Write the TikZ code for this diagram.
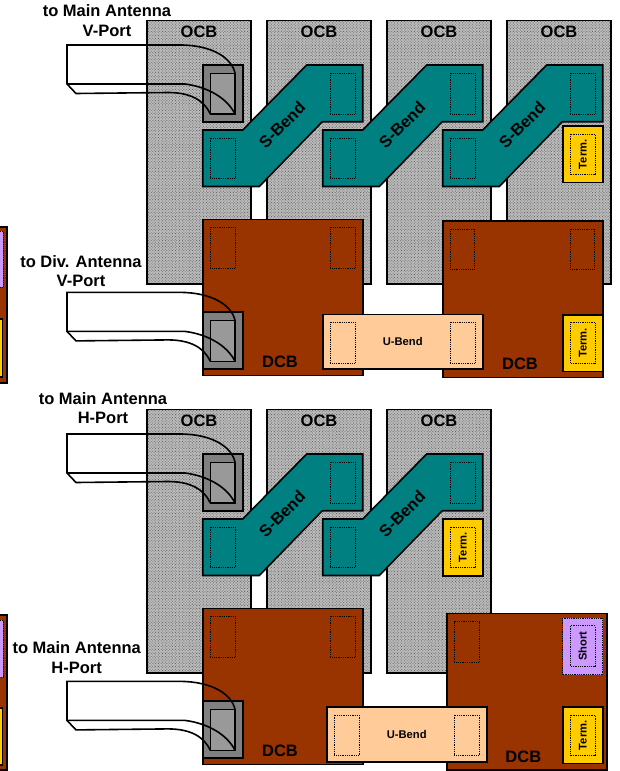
\documentclass[tikz,border=0pt]{standalone}
\usepackage{fontspec}
\setmainfont{Liberation Sans}
\usetikzlibrary{positioning,patterns.meta}
\definecolor{sbendcol}{HTML}{008080}
\definecolor{dcbcol}{HTML}{993300}
\definecolor{termcol}{HTML}{FFCC00}
\definecolor{ubendcol}{HTML}{FFCC99}
\definecolor{shortcol}{HTML}{CC99FF}
\tikzset{
  ocb/.style   = {draw=black, line width=1.6pt, outer sep=0pt, minimum width=104pt, minimum height=263.3pt,
                  preaction={fill=black!26}, pattern={Dots[distance=2pt, radius=.6pt, angle=45]}, pattern color=black!60},
  dcb/.style   = {draw=black, line width=1.6pt, outer sep=0pt, fill=dcbcol, minimum width=160pt, minimum height=156.3pt},
  ubend/.style = {draw=black, line width=1.6pt, outer sep=0pt, fill=ubendcol, minimum width=160pt, minimum height=54.7pt,
                  font=\fontsize{11.2}{13}\selectfont\bfseries},
  sbend/.style = {draw=black, line width=1.6pt, fill=sbendcol, line join=miter},
  term/.style  = {draw=black, line width=1.6pt, outer sep=0pt, fill=termcol, minimum width=40pt, minimum height=56.7pt},
  short/.style = {draw=black, densely dotted, line width=.8pt, outer sep=0pt, fill=shortcol, minimum width=40pt, minimum height=56.7pt},
  conn/.style  = {draw=black, line width=1.6pt, outer sep=0pt, fill=black!50, minimum width=40pt, minimum height=57pt},
  inn/.style   = {draw=black, line width=1.6pt, outer sep=0pt, fill=black!40, minimum width=24.7pt, minimum height=40.7pt},
  pad/.style   = {draw=black, densely dotted, line width=.8pt, outer sep=0pt, minimum width=24.7pt, minimum height=40.7pt},
  tpad/.style  = {draw=black, densely dotted, line width=.8pt, outer sep=0pt, rotate=90, minimum width=40.7pt, minimum height=24.7pt,
                  inner sep=0pt, font=\fontsize{11.2}{13}\selectfont\bfseries},
  lab/.style   = {font=\fontsize{16.5}{19.5}\selectfont\bfseries, align=center, inner sep=0pt},
  cable/.style = {draw=black, line width=1.6pt, line join=miter},
}
\begin{document}
\begin{tikzpicture}[x=1pt, y=-1pt]
  \useasboundingbox (0,0) rectangle (619,771);
  % cut-off blocks at the left edge
  \draw[line width=1.6pt, fill=dcbcol] (0,226.7) -- (7,226.7) -- (7,383) -- (0,383);
  \draw[densely dotted, line width=.8pt, fill=shortcol] (0,231) -- (3,231) -- (3,287) -- (0,287);
  \draw[line width=1.6pt, fill=termcol] (0,319) -- (2.5,319) -- (2.5,377) -- (0,377);
  \draw[line width=1.6pt, fill=dcbcol] (0,615) -- (7,615) -- (7,770) -- (0,770);
  \draw[densely dotted, line width=.8pt, fill=shortcol] (0,620) -- (3,620) -- (3,677) -- (0,677);
  \draw[line width=1.6pt, fill=termcol] (0,708) -- (2.5,708) -- (2.5,765) -- (0,765);

  % V-port, OCB row
  \node[ocb] (ocbA) at (199,152.3) {};
  \node[ocb, right=16pt of ocbA] (ocbB) {};
  \node[ocb, right=16pt of ocbB] (ocbC) {};
  \node[ocb, right=16pt of ocbC] (ocbD) {};
  \node[lab] (txtA) at (199,32) {OCB};
  \node[lab] (txtB) at (319,32) {OCB};
  \node[lab] (txtC) at (439,32) {OCB};
  \node[lab] (txtD) at (559,32) {OCB};
  \draw[sbend] (202.7,130) -- (242.7,130) -- (306.7,65) -- (362.7,65) -- (362.7,121.7) -- (322.3,121.7) -- (259.3,186.5) -- (202.7,186.5) -- cycle;
  \draw[sbend] (322.7,130) -- (362.7,130) -- (426.7,65) -- (482.7,65) -- (482.7,121.7) -- (442.3,121.7) -- (379.3,186.5) -- (322.7,186.5) -- cycle;
  \draw[sbend] (442.7,130) -- (482.7,130) -- (546.7,65) -- (602.7,65) -- (602.7,121.7) -- (562.3,121.7) -- (499.3,186.5) -- (442.7,186.5) -- cycle;
  \node[lab, rotate=45] (sbA) at (282,125) {S-Bend};
  \node[lab, rotate=45] (sbB) at (402,125) {S-Bend};
  \node[lab, rotate=45] (sbC) at (522,125) {S-Bend};
  \node[pad] (pA) at (222.7,158.3) {};
  \node[pad] (pB) at (342.7,93.7) {};
  \node[pad] (pC) at (342.7,158.3) {};
  \node[pad] (pD) at (462.7,93.7) {};
  \node[pad] (pE) at (462.7,158.3) {};
  \node[pad] (pF) at (582.7,93.7) {};
  \node[term] (termA) at (582.7,154.3) {};
  \node[tpad] (termAt) at (582.7,154.3) {Term.};
  \node[conn] (connA) at (223,93.5) {};
  \node[inn] (innA) at (222.7,93.7) {};
  \node[lab] (capA) at (107,20.5) {to Main Antenna\\V-Port};
  \coordinate (cabAa) at (67,45);
  \coordinate (cabAb) at (67,84);
  \coordinate (cabAc) at (76,93.5);
  \draw[cable] (innA.north east) .. controls (232,58) and (212,45) .. (180,45) -- (cabAa) -- (cabAb) -- (cabAc) -- (168,92.5) .. controls (190,92.5) and (204,100) .. (innA.south west);
  \draw[cable] (cabAb) -- (185,84) .. controls (208,87) and (227,98) .. (innA.south east);

  % V-port, DCB row
  \node[dcb] (dcbA) at (283,297.5) {};
  \node[dcb] (dcbB) at (523,299.2) {};
  \node[pad] (pG) at (222.7,247.7) {};
  \node[pad] (pH) at (342.7,247.7) {};
  \node[pad] (pI) at (462.5,249.5) {};
  \node[pad] (pJ) at (582.5,249.5) {};
  \node[ubend] (ubA) at (402.7,341.7) {U-Bend};
  \node[pad] (pK) at (342.7,342.8) {};
  \node[pad] (pL) at (462.7,342.8) {};
  \node[term] (termB) at (582.7,343.2) {};
  \node[tpad] (termBt) at (582.7,342.8) {Term.};
  \node[lab] (txtE) at (280,362) {DCB};
  \node[lab] (txtF) at (520,364) {DCB};
  \node[conn] (connB) at (223,340.5) {};
  \node[inn] (innB) at (222.7,341) {};
  \node[lab] (capB) at (81,271) {to Div. Antenna\\V-Port};
  \coordinate (cabBa) at (67,292.4);
  \coordinate (cabBb) at (67,331.4);
  \coordinate (cabBc) at (76,340.9);
  \draw[cable] (innB.north east) .. controls (232,305.4) and (212,292.4) .. (180,292.4) -- (cabBa) -- (cabBb) -- (cabBc) -- (168,339.9) .. controls (190,339.9) and (204,347.4) .. (innB.south west);
  \draw[cable] (cabBb) -- (185,331.4) .. controls (208,334.4) and (227,345.4) .. (innB.south east);

  % H-port, OCB row
  \node[ocb] (ocbE) at (199,541.3) {};
  \node[ocb, right=16pt of ocbE] (ocbF) {};
  \node[ocb, right=16pt of ocbF] (ocbG) {};
  \node[lab] (txtG) at (199,421) {OCB};
  \node[lab] (txtH) at (319,421) {OCB};
  \node[lab] (txtI) at (439,421) {OCB};
  \draw[sbend] (202.7,519) -- (242.7,519) -- (306.7,454) -- (362.7,454) -- (362.7,510.7) -- (322.3,510.7) -- (259.3,575.5) -- (202.7,575.5) -- cycle;
  \draw[sbend] (322.7,519) -- (362.7,519) -- (426.7,454) -- (482.7,454) -- (482.7,510.7) -- (442.3,510.7) -- (379.3,575.5) -- (322.7,575.5) -- cycle;
  \node[lab, rotate=45] (sbD) at (282,514) {S-Bend};
  \node[lab, rotate=45] (sbE) at (402,514) {S-Bend};
  \node[pad] (pM) at (222.7,547.3) {};
  \node[pad] (pN) at (342.7,482.7) {};
  \node[pad] (pO) at (342.7,547.3) {};
  \node[pad] (pP) at (462.7,482.7) {};
  \node[term] (termC) at (462.7,547.5) {};
  \node[tpad] (termCt) at (462.7,547.4) {Term.};
  \node[conn] (connC) at (223,482.5) {};
  \node[inn] (innC) at (222.7,482.7) {};
  \node[lab] (capC) at (103,408) {to Main Antenna\\H-Port};
  \coordinate (cabCa) at (67,434);
  \coordinate (cabCb) at (67,473);
  \coordinate (cabCc) at (76,482.5);
  \draw[cable] (innC.north east) .. controls (232,447) and (212,434) .. (180,434) -- (cabCa) -- (cabCb) -- (cabCc) -- (168,481.5) .. controls (190,481.5) and (204,489) .. (innC.south west);
  \draw[cable] (cabCb) -- (185,473) .. controls (208,476) and (227,487) .. (innC.south east);

  % H-port, DCB row
  \node[dcb] (dcbC) at (283,686.5) {};
  \node[dcb] (dcbD) at (526.7,691.7) {};
  \node[pad] (pQ) at (222.7,636.7) {};
  \node[pad] (pR) at (342.7,636.7) {};
  \node[pad] (pS) at (466.7,642) {};
  \node[ubend] (ubB) at (406.7,734.5) {U-Bend};
  \node[pad] (pT) at (346.7,735.3) {};
  \node[pad] (pU) at (466.7,735.3) {};
  \node[short] (shortA) at (582.7,646.3) {};
  \node[tpad] (shortAt) at (582.7,646.2) {Short};
  \node[term] (termD) at (582.7,735.3) {};
  \node[tpad] (termDt) at (582.7,735.3) {Term.};
  \node[lab] (txtJ) at (280,751) {DCB};
  \node[lab] (txtK) at (523.3,757.3) {DCB};
  \node[conn] (connD) at (223,729.5) {};
  \node[inn] (innD) at (222.7,730) {};
  \node[lab] (capD) at (76.7,657.5) {to Main Antenna\\H-Port};
  \coordinate (cabDa) at (67,681.4);
  \coordinate (cabDb) at (67,720.4);
  \coordinate (cabDc) at (76,729.9);
  \draw[cable] (innD.north east) .. controls (232,694.4) and (212,681.4) .. (180,681.4) -- (cabDa) -- (cabDb) -- (cabDc) -- (168,728.9) .. controls (190,728.9) and (204,736.4) .. (innD.south west);
  \draw[cable] (cabDb) -- (185,720.4) .. controls (208,723.4) and (227,734.4) .. (innD.south east);
\end{tikzpicture}
\end{document}
